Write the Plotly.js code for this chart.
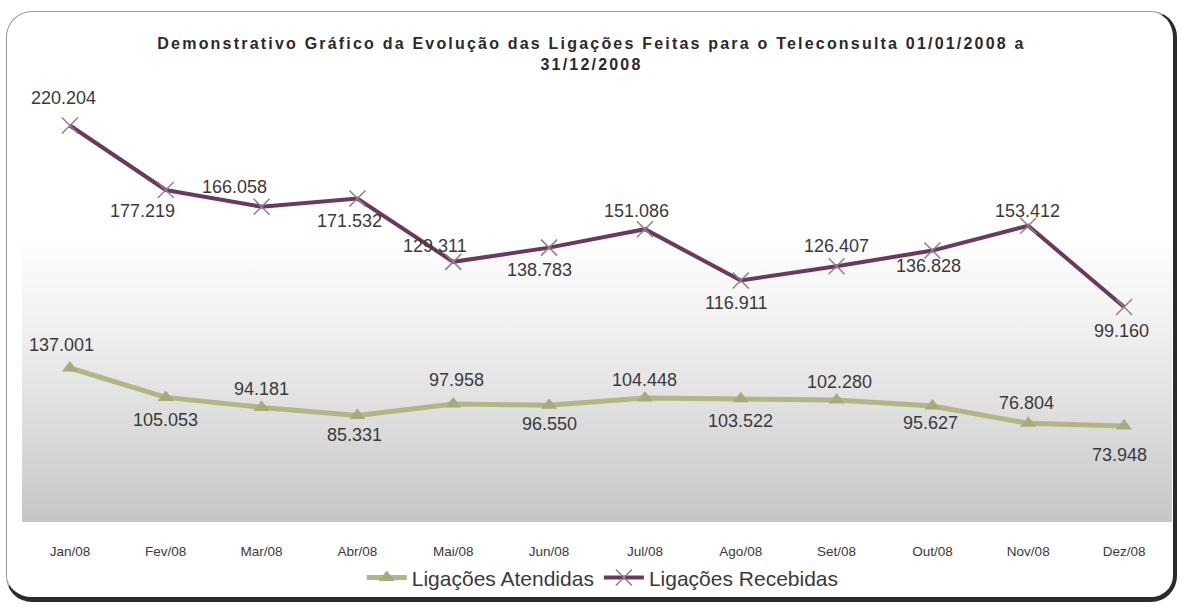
<!DOCTYPE html>
<html>
<head>
<meta charset="utf-8">
<script src="https://cdn.plot.ly/plotly-3.0.1.min.js"></script>
<style>
  html, body { margin:0; padding:0; background:#ffffff; }
  #wrap { position:relative; width:1183px; height:612px; overflow:hidden; background:#fff; }
  #frame { position:absolute; left:6px; top:11px; width:1166px; height:585px;
           border-top:1px solid #9a9a9a; border-left:1px solid #9a9a9a;
           border-right:4px solid #2b2b2b; border-bottom:5px solid #2b2b2b;
           border-radius:26px; box-sizing:content-box; }
  #grad { position:absolute; left:22px; top:85px; width:1150px; height:437px;
          background:linear-gradient(to bottom, #ffffff 0%, #ffffff 34%, #eeeeee 58%, #dadada 80%, #c6c6c6 100%); }
  #chart { position:absolute; left:0; top:0; width:1183px; height:612px; }
  #chart .gtitle { letter-spacing: 2.2px; }
</style>
</head>
<body>
<div id="wrap">
  <div id="frame"></div>
  <div id="grad"></div>
  <div id="chart"></div>
</div>
<script>
// ---- data ----
const months = ["Jan/08","Fev/08","Mar/08","Abr/08","Mai/08","Jun/08","Jul/08","Ago/08","Set/08","Out/08","Nov/08","Dez/08"];
const atendidas = [137001, 105053, 94181, 85331, 97958, 96550, 104448, 103522, 102280, 95627, 76804, 73948];
const recebidas = [220204, 177219, 166058, 171532, 129311, 138783, 151086, 116911, 126407, 136828, 153412, 99160];
const atendidasLabels = ["137.001","105.053","94.181","85.331","97.958","96.550","104.448","103.522","102.280","95.627","76.804","73.948"];
const recebidasLabels = ["220.204","177.219","166.058","171.532","129.311","138.783","151.086","116.911","126.407","136.828","153.412","99.160"];

// ---- label placement (style) ----
const offR = [[-6,28],[-23,-21],[-27,20],[-8,-22],[-18,16],[-10,-22],[-8,18],[-5,-23],[0,20],[-4,-15],[-1,15],[-3,-24]];
const offA = [[-8,23],[0,-23],[0,18],[-3,-19],[3,24],[0,-19],[0,18],[0,-22],[3,18],[-2,-17],[-2,20],[-5,-29]];

const colR = "#6a3a5c", colA = "#b4b585";

const traces = [
  { x: months, y: atendidas, name: "Ligações Atendidas", type: "scatter", mode: "lines+markers",
    yaxis: "y", line: { color: colA, width: 5 },
    marker: { symbol: "triangle-up", size: 14, color: "#a8aa79" }, hoverinfo: "skip" },
  { x: months, y: recebidas, name: "Ligações Recebidas", type: "scatter", mode: "lines+markers",
    yaxis: "y2", line: { color: colR, width: 4 },
    marker: { symbol: "x-thin", size: 16, line: { color: "#8f7f8c", width: 1.5 } }, hoverinfo: "skip" }
];

const annotations = [];
const fnt = { family: "Liberation Sans, Arial, sans-serif", size: 18, color: "#3a3a3a" };
months.forEach((m, i) => {
  annotations.push({ x: m, y: recebidas[i], xref: "x", yref: "y2", text: recebidasLabels[i], showarrow: false,
    xshift: offR[i][0], yshift: offR[i][1], font: fnt });
  annotations.push({ x: m, y: atendidas[i], xref: "x", yref: "y", text: atendidasLabels[i], showarrow: false,
    xshift: offA[i][0], yshift: offA[i][1], font: fnt });
});

const layout = {
  width: 1183, height: 612,
  paper_bgcolor: "rgba(0,0,0,0)", plot_bgcolor: "rgba(0,0,0,0)",
  margin: { l: 22, r: 11, t: 85, b: 90 },
  font: { family: "Liberation Sans, Arial, sans-serif", color: "#333" },
  title: { text: "Demonstrativo Gráfico da Evolução das Ligações Feitas para o Teleconsulta 01/01/2008 a<br>31/12/2008",
    x: 0.5, xref: "container", y: 0.92, yref: "container", yanchor: "top",
    font: { family: "Liberation Sans, Arial, sans-serif", size: 16, color: "#2a2a2a", weight: "bold" } },
  xaxis: { type: "category", range: [-0.5, 11.5], showgrid: false, zeroline: false, showline: false,
    ticks: "", tickfont: { size: 13.5, color: "#3a3a3a" }, ticklabelstandoff: 19, fixedrange: true },
  yaxis: { range: [-30400, 444600], visible: false, showgrid: false, zeroline: false, fixedrange: true },
  yaxis2: { range: [-44100, 247200], overlaying: "y", visible: false, showgrid: false, zeroline: false, fixedrange: true },
  showlegend: true,
  legend: { orientation: "h", x: 0.505, xanchor: "center", y: -0.128, yanchor: "middle",
    font: { size: 21, color: "#3a3a3a" }, bgcolor: "rgba(0,0,0,0)", itemwidth: 40 },
  annotations: annotations
};

Plotly.newPlot("chart", traces, layout, { displayModeBar: false, staticPlot: true });
</script>
</body>
</html>
